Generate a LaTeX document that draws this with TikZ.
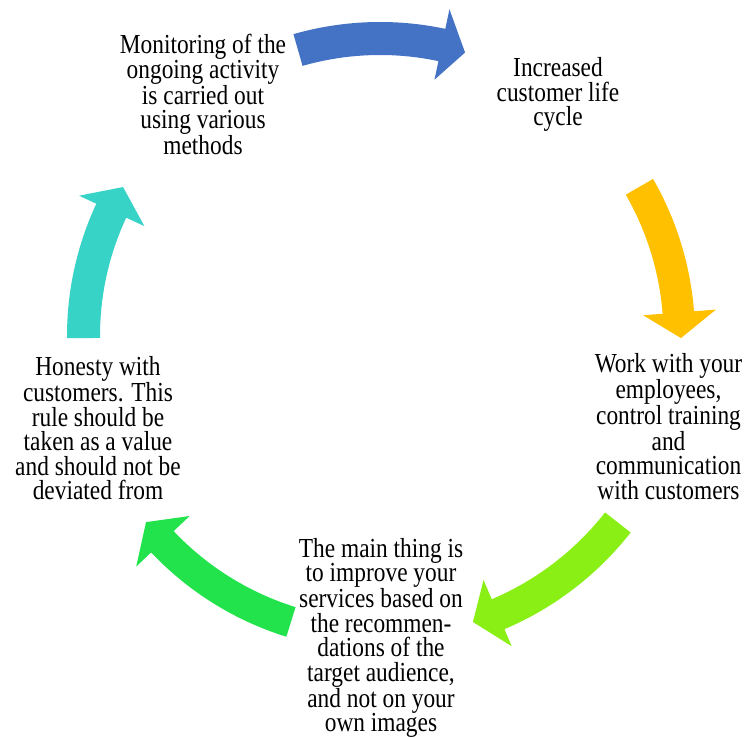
\documentclass[tikz,border=0pt]{standalone}
\usepackage{fontspec}
\setmainfont{Liberation Serif}
\definecolor{cblue}{HTML}{4472C4}
\definecolor{cyellow}{HTML}{FFC000}
\definecolor{clime}{HTML}{8AEF14}
\definecolor{cgreen}{HTML}{22E34C}
\definecolor{cteal}{HTML}{36D3C6}
% #1 colour, #2 tail angle, #3 head base angle, #4 tip angle,
% #5 inner radius, #6 outer radius, #7 head inner, #8 head outer, #9 tip radius
\newcommand\CycArrow[9]{%
  \fill[#1] (#2:#6pt) arc[start angle=#2, end angle=#3, radius=#6pt]
    -- (#3:#8pt) -- (#4:#9pt) -- (#3:#7pt) -- (#3:#5pt)
    arc[start angle=#3, end angle=#2, radius=#5pt] -- cycle;}
\tikzset{lbl/.style={align=center, font=\fontsize{27.5}{24.5}\selectfont,
  xscale=0.85, anchor=base, inner sep=0pt}}
\begin{document}
\begin{tikzpicture}[x=1pt,y=1pt]
\useasboundingbox (0,0) rectangle (746,737);
\begin{scope}[shift={(380,401)}]
\CycArrow{cblue}{106}{78}{73.3}{281}{314}{262}{334}{296}
\CycArrow{cyellow}{29.9}{4.5}{-0.4}{283.5}{315}{264}{337}{301}
\CycArrow{clime}{-38.1}{-67}{-72}{286}{318.5}{265}{337}{300.7}
\CycArrow{cgreen}{-107.3}{-136.6}{-141.5}{284}{315}{262}{335.5}{299}
\CycArrow{cteal}{180.4}{155}{149.9}{280}{313}{260}{332}{297}
\end{scope}
\node[lbl] (mon) at (203,582.3) {Monitoring of the\\ongoing activity\\is carried out\\using various\\methods};
\node[lbl] (inc) at (558,611.3) {Increased\\customer life\\cycle};
\node[lbl] (work) at (668.5,237.8) {Work with your\\employees,\\control training\\and\\communication\\with customers};
\node[lbl] (main) at (381,5.3) {The main thing is\\to improve your\\services based on\\the recommen-\\dations of the\\target audience,\\and not on your\\own images};
\node[lbl] (hon) at (98,237.2) {Honesty with\\customers. This\\rule should be\\taken as a value\\and should not be\\deviated from};
\end{tikzpicture}
\end{document}
